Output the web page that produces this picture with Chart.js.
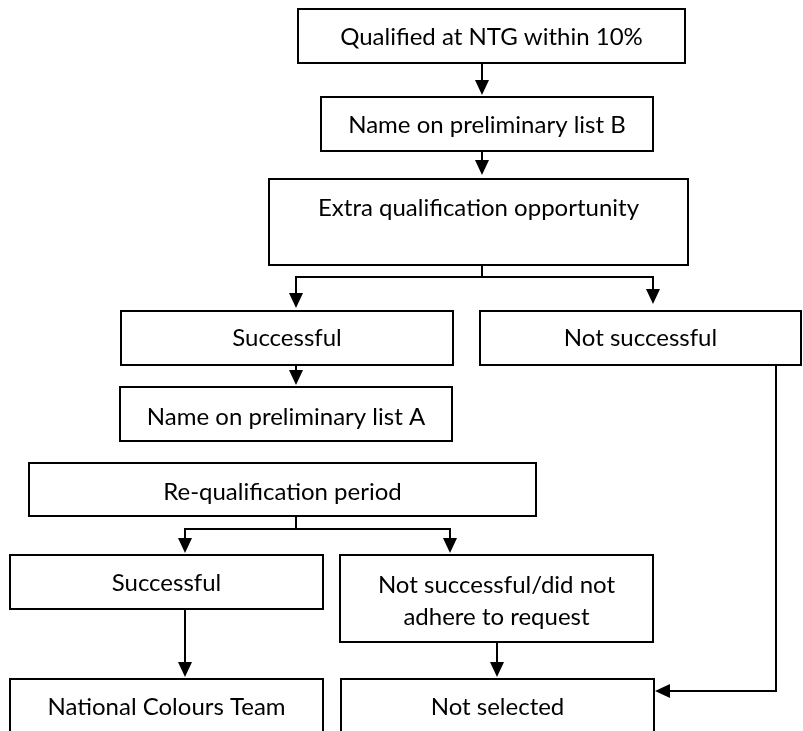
<!DOCTYPE html>
<html>
<head>
<meta charset="utf-8">
<script src="https://cdn.jsdelivr.net/npm/chart.js@4"></script>
<style>
    html, body { margin: 0; padding: 0; background: #fff; }
    canvas { display: block; }
</style>
</head>
<body>
<canvas id="flow" width="803" height="731"></canvas>
<script>
// --- FLOW DATA ---
const nodeLabels = [
    'Qualified at NTG within 10%',
    'Name on preliminary list B',
    'Extra qualification opportunity',
    'Successful',
    'Not successful',
    'Name on preliminary list A',
    'Re-qualification period',
    'Successful',
    'Not successful/did not\nadhere to request',
    'National Colours Team',
    'Not selected'
];
const nodeLeft   = [298, 321, 269, 121, 480, 120, 29, 10, 340, 10, 341];
const nodeRight  = [685, 653, 688, 453, 801, 452, 536, 323, 653, 323, 654];
const nodeTop    = [9, 97, 179, 311, 311, 387, 463, 555, 555, 679, 679];
const nodeBottom = [63, 151, 265, 365, 365, 441, 516, 609, 642, 745, 745];
const labelY     = [37, 125, 208, 338, 338, 417, 492, 583, 585, 707, 707];

// connector polylines (x, y pairs in chart units)
const connectors = [
    [[482, 63], [482, 90]],
    [[482, 151], [482, 170]],
    [[482, 265], [482, 277]],
    [[296, 277], [653, 277]],
    [[296, 277], [296, 300]],
    [[653, 277], [653, 297]],
    [[296, 365], [296, 378]],
    [[776, 365], [776, 691], [665, 691]],
    [[296, 516], [296, 529]],
    [[185, 529], [450, 529]],
    [[185, 529], [185, 546]],
    [[450, 529], [450, 546]],
    [[185, 609], [185, 670]],
    [[497, 642], [497, 670]]
];
// arrow tips: x, y, direction
const arrowX   = [482, 482, 296, 653, 296, 655, 185, 450, 185, 497];
const arrowY   = [95, 175, 308, 304, 385, 691, 553, 553, 677, 677];
const arrowDir = ['down', 'down', 'down', 'down', 'down', 'left', 'down', 'down', 'down', 'down'];

// --- DATASETS ---
const boxSets = nodeLabels.map((_, i) => ({
    data: [
        { x: nodeLeft[i], y: nodeTop[i] },
        { x: nodeRight[i], y: nodeTop[i] },
        { x: nodeRight[i], y: nodeBottom[i] },
        { x: nodeLeft[i], y: nodeBottom[i] },
        { x: nodeLeft[i], y: nodeTop[i] }
    ]
}));
const lineSets = connectors.map(path => ({
    data: path.map(p => ({ x: p[0], y: p[1] }))
}));
const allSets = boxSets.concat(lineSets).map(ds => Object.assign(ds, {
    showLine: true,
    borderColor: '#000',
    borderWidth: 2,
    borderCapStyle: 'square',
    borderJoinStyle: 'miter',
    pointRadius: 0,
    fill: false,
    tension: 0
}));

// --- PLUGIN: arrowheads + labels ---
const flowDecor = {
    id: 'flowDecor',
    afterDatasetsDraw(chart) {
        const { ctx, scales: { x, y } } = chart;
        ctx.save();
        ctx.fillStyle = '#000';
        arrowX.forEach((ax, i) => {
            const px = x.getPixelForValue(ax);
            const py = y.getPixelForValue(arrowY[i]);
            ctx.beginPath();
            if (arrowDir[i] === 'down') {
                ctx.moveTo(px, py);
                ctx.lineTo(px - 7, py - 15);
                ctx.lineTo(px + 7, py - 15);
            } else {
                ctx.moveTo(px, py);
                ctx.lineTo(px + 15, py - 7);
                ctx.lineTo(px + 15, py + 7);
            }
            ctx.closePath();
            ctx.fill();
        });

        ctx.font = '24px Lato, "Open Sans", sans-serif';
        ctx.textAlign = 'center';
        ctx.textBaseline = 'middle';
        nodeLabels.forEach((label, i) => {
            const cx = x.getPixelForValue((nodeLeft[i] + nodeRight[i]) / 2);
            label.split('\n').forEach((line, k) => {
                ctx.fillText(line, cx, y.getPixelForValue(labelY[i] + k * 32));
            });
        });
        ctx.restore();
    }
};

new Chart(document.getElementById('flow'), {
    type: 'scatter',
    data: { datasets: allSets },
    options: {
        responsive: false,
        animation: false,
        events: [],
        layout: { padding: 0 },
        plugins: { legend: { display: false }, tooltip: { enabled: false } },
        scales: {
            x: { type: 'linear', display: false, min: 0, max: 803 },
            y: { type: 'linear', display: false, min: 0, max: 731, reverse: true }
        }
    },
    plugins: [flowDecor]
});
</script>
</body>
</html>
